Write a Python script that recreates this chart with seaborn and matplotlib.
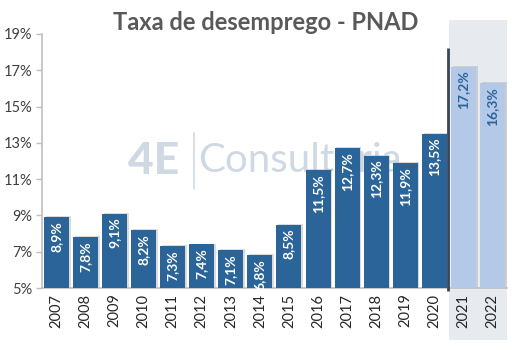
import matplotlib
matplotlib.use("Agg")
import matplotlib.pyplot as plt
import matplotlib.patches as mpatches
import seaborn as sns
import pandas as pd
import numpy as np

years = ["2007", "2008", "2009", "2010", "2011", "2012", "2013", "2014",
         "2015", "2016", "2017", "2018", "2019", "2020", "2021", "2022"]
rates = [8.9, 7.8, 9.1, 8.2, 7.3, 7.4, 7.1, 6.8,
         8.5, 11.5, 12.7, 12.3, 11.9, 13.5, 17.2, 16.3]
forecast = [False] * 14 + [True, True]
yticks = [5, 7, 9, 11, 13, 15, 17, 19]

DARK = "#2B6498"
LIGHT = "#B4C8E8"
SHADE = "#E7EBEF"
GRID_GRAY = "#BFBFBF"
TEXT_GRAY = "#404040"
MARK = "#CFD9E3"

sns.set_theme(style="white")
plt.rcParams["font.family"] = ["Lato", "DejaVu Sans"]

df = pd.DataFrame({"ano": years, "taxa": rates, "proj": forecast})
base = yticks[0]
df["altura"] = df["taxa"] - base
colors = [LIGHT if p else DARK for p in forecast]

fig = plt.figure(figsize=(5.2, 3.5), dpi=100)
ax = fig.add_axes([0.0808, 0.177, 0.894, 0.726])

sns.barplot(data=df, x="ano", y="altura", hue="ano", palette=colors,
            legend=False, width=0.86, bottom=base, ax=ax, zorder=3,
            edgecolor="none", saturation=1)

ax.set_ylim(base, yticks[-1])
ax.set_xlim(-0.5, len(years) - 0.5)
ax.set_yticks(yticks)
ax.set_yticklabels([f"{t}%" for t in yticks], fontsize=10.5, color=TEXT_GRAY)
ax.set_xticks(range(len(years)))
ax.set_xticklabels(years, rotation=90, fontsize=10.5, color="#262626")
ax.set_xlabel("")
ax.set_ylabel("")

# tick marks on category boundaries
ax.set_xticks(np.arange(-0.5, len(years), 1.0), minor=True)
ax.tick_params(axis="x", which="major", length=0, pad=4)
ax.tick_params(axis="x", which="minor", length=4, color=GRID_GRAY, width=1)
ax.tick_params(axis="y", length=4, color=GRID_GRAY, width=1, left=True, pad=3)

for side in ["top", "right"]:
    ax.spines[side].set_visible(False)
for side in ["left", "bottom"]:
    ax.spines[side].set_color(GRID_GRAY)
    ax.spines[side].set_linewidth(1.2)

# shaded projection band reaching below the axis labels
n_hist = forecast.index(True)
band = mpatches.Rectangle((n_hist - 0.5, -0.205), 2.0, 1.26,
                          transform=ax.get_xaxis_transform(),
                          facecolor=SHADE, edgecolor="none",
                          clip_on=False, zorder=0)
ax.add_patch(band)

# separator between observed and projected years
ax.plot([n_hist - 0.53, n_hist - 0.53], [-0.01, 0.945],
        transform=ax.get_xaxis_transform(), color="#3A4656",
        lw=2, clip_on=False, zorder=5, solid_capstyle="butt")

# subtle shadow behind bars
for i, v in enumerate(rates):
    sh = mpatches.Rectangle((i - 0.43 + 0.06, base), 0.86, v - base + 0.05,
                            facecolor="#9A9A9A", alpha=0.35,
                            edgecolor="none", zorder=2)
    ax.add_patch(sh)

# value labels inside the bars
for i, (v, p) in enumerate(zip(rates, forecast)):
    label = f"{v:.1f}%".replace(".", ",")
    ax.text(i, v - 0.22, label, rotation=90, ha="center", va="top",
            fontsize=10, fontweight="bold",
            color=DARK if p else "white", zorder=6)

# watermark logo behind the bars
ax.text(0.241, 0.50, "4E", transform=ax.transAxes, fontsize=32,
        fontweight="black", color=MARK, ha="center", va="center",
        zorder=1)
ax.plot([0.326, 0.326], [0.39, 0.61], transform=ax.transAxes,
        color=MARK, lw=1.2, zorder=1)
ax.text(0.335, 0.50, "Consultoria", transform=ax.transAxes, fontsize=29,
        fontweight="normal", color=MARK, ha="left", va="center", zorder=1)

fig.text(0.51, 0.935, "Taxa de desemprego - PNAD", ha="center",
         va="center", fontsize=17, fontweight="bold", color="#595959")

fig.savefig("out.png", dpi=100)
